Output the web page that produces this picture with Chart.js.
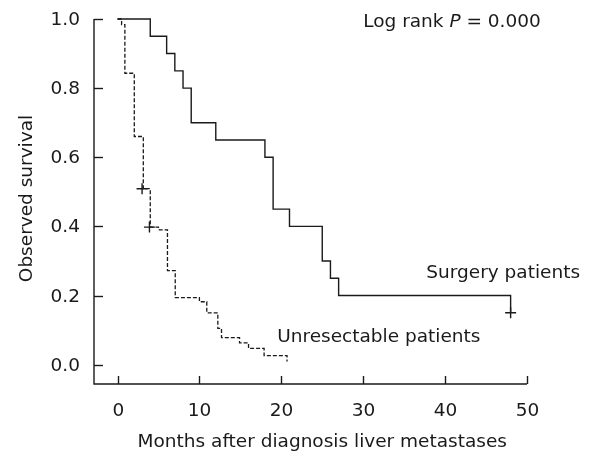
<!DOCTYPE html>
<html>
<head>
<meta charset="utf-8">
<script src="https://cdn.jsdelivr.net/npm/chart.js@4/dist/chart.umd.min.js"></script>
<style>
  html, body { margin: 0; padding: 0; background: #fff; }
  canvas { display: block; }
</style>
</head>
<body>
<canvas id="kmChart" width="589" height="459"></canvas>
<script>
// Kaplan-Meier data
const surgeryMonths = [0, 4, 6, 7, 8, 9, 12, 18, 19, 21, 25, 26, 27, 48];
const surgerySurvival = [1.0, 0.95, 0.90, 0.85, 0.80, 0.70, 0.65, 0.60, 0.45, 0.40, 0.30, 0.25, 0.20, 0.15];
const surgeryCensorMonths = [48];
const surgeryCensorSurvival = [0.15];

const unresMonths = [0, 0.5, 0.9, 2.05, 3.15, 4.0, 5.0, 6.1, 7.05, 10.0, 10.9, 12.25, 12.7, 14.9, 16.0, 17.9, 20.7];
const unresSurvival = [1.0, 0.984, 0.843, 0.660, 0.509, 0.398, 0.390, 0.272, 0.194, 0.182, 0.150, 0.105, 0.078, 0.063, 0.047, 0.026, 0.009];
const unresCensorMonths = [3.0, 3.9];
const unresCensorSurvival = [0.509, 0.398];

const xTicks = [0, 10, 20, 30, 40, 50];
const yTicks = [0, 0.2, 0.4, 0.6, 0.8, 1.0];

const xTitle = "Months after diagnosis liver metastases";
const yTitle = "Observed survival";
const surgeryLabel = "Surgery patients";
const unresLabel = "Unresectable patients";

const FONT = "'DejaVu Sans', Verdana, sans-serif";
const SIZE = "18.5px ";
const INK = "#1a1a1a";

function toPoints(xs, ys) {
  return xs.map((x, i) => ({ x: x, y: ys[i] }));
}

// axes, inward ticks, labels and annotations
const axisPlugin = {
  id: "kmAxes",
  afterDraw(chart) {
    const ctx = chart.ctx;
    const xs = chart.scales.x;
    const ys = chart.scales.y;
    const area = chart.chartArea;
    ctx.save();
    ctx.strokeStyle = INK;
    ctx.fillStyle = INK;
    ctx.lineWidth = 1.4;

    const x50 = xs.getPixelForValue(50);
    const y1 = ys.getPixelForValue(1.0);

    ctx.beginPath();
    ctx.moveTo(area.left, y1);
    ctx.lineTo(area.left, area.bottom);
    ctx.lineTo(x50, area.bottom);
    ctx.stroke();

    ctx.font = SIZE + FONT;

    // x ticks
    ctx.textAlign = "center";
    ctx.textBaseline = "alphabetic";
    xTicks.forEach((t) => {
      const px = Math.round(xs.getPixelForValue(t)) + 0.5;
      ctx.beginPath();
      ctx.moveTo(px, area.bottom);
      ctx.lineTo(px, area.bottom - 8);
      ctx.stroke();
      ctx.fillText(String(t), px, area.bottom + 32);
    });

    // y ticks
    ctx.textAlign = "right";
    ctx.textBaseline = "middle";
    yTicks.forEach((v) => {
      const py = Math.round(ys.getPixelForValue(v)) + 0.5;
      ctx.beginPath();
      ctx.moveTo(area.left, py);
      ctx.lineTo(area.left + 9, py);
      ctx.stroke();
      ctx.fillText(v.toFixed(1), area.left - 14, py + 1);
    });

    // axis titles
    ctx.textAlign = "center";
    ctx.textBaseline = "alphabetic";
    ctx.fillText(xTitle, xs.getPixelForValue(25), area.bottom + 63);

    ctx.save();
    ctx.translate(27, (area.top + area.bottom) / 2 - 3);
    ctx.rotate(-Math.PI / 2);
    ctx.textBaseline = "middle";
    ctx.fillText(yTitle, 0, 0);
    ctx.restore();

    // curve labels
    ctx.textAlign = "left";
    ctx.fillText(surgeryLabel, xs.getPixelForValue(37.7), ys.getPixelForValue(0.25));
    ctx.fillText(unresLabel, xs.getPixelForValue(19.5), ys.getPixelForValue(0.065));

    // log rank note
    let lx = xs.getPixelForValue(30.0);
    const ly = 27;
    const part1 = "Log rank ";
    ctx.fillText(part1, lx, ly);
    lx += ctx.measureText(part1).width;
    ctx.font = "italic " + SIZE + FONT;
    ctx.fillText("P", lx, ly);
    lx += ctx.measureText("P").width;
    ctx.font = SIZE + FONT;
    ctx.fillText(" = 0.000", lx, ly);

    ctx.restore();
  }
};

const ctx = document.getElementById("kmChart").getContext("2d");

new Chart(ctx, {
  type: "scatter",
  data: {
    datasets: [
      {
        label: surgeryLabel,
        data: toPoints(surgeryMonths, surgerySurvival),
        showLine: true,
        stepped: true,
        borderColor: INK,
        borderWidth: 1.4,
        pointRadius: 0,
        clip: false
      },
      {
        label: unresLabel,
        data: toPoints(unresMonths, unresSurvival),
        showLine: true,
        stepped: true,
        borderColor: INK,
        borderWidth: 1.3,
        borderDash: [4, 2],
        pointRadius: 0,
        clip: false
      },
      {
        label: "Censored",
        data: toPoints(surgeryCensorMonths, surgeryCensorSurvival)
          .concat(toPoints(unresCensorMonths, unresCensorSurvival)),
        showLine: false,
        pointStyle: "cross",
        pointRadius: 5.5,
        borderColor: INK,
        borderWidth: 1.4,
        clip: false
      }
    ]
  },
  options: {
    responsive: false,
    animation: false,
    devicePixelRatio: 1,
    layout: { padding: { left: 94, right: 62, top: 19, bottom: 75 } },
    plugins: {
      legend: { display: false },
      tooltip: { enabled: false }
    },
    scales: {
      x: { type: "linear", min: -2.87, max: 50, display: false },
      y: { type: "linear", min: -0.056, max: 1.0, display: false }
    }
  },
  plugins: [axisPlugin]
});
</script>
</body>
</html>
